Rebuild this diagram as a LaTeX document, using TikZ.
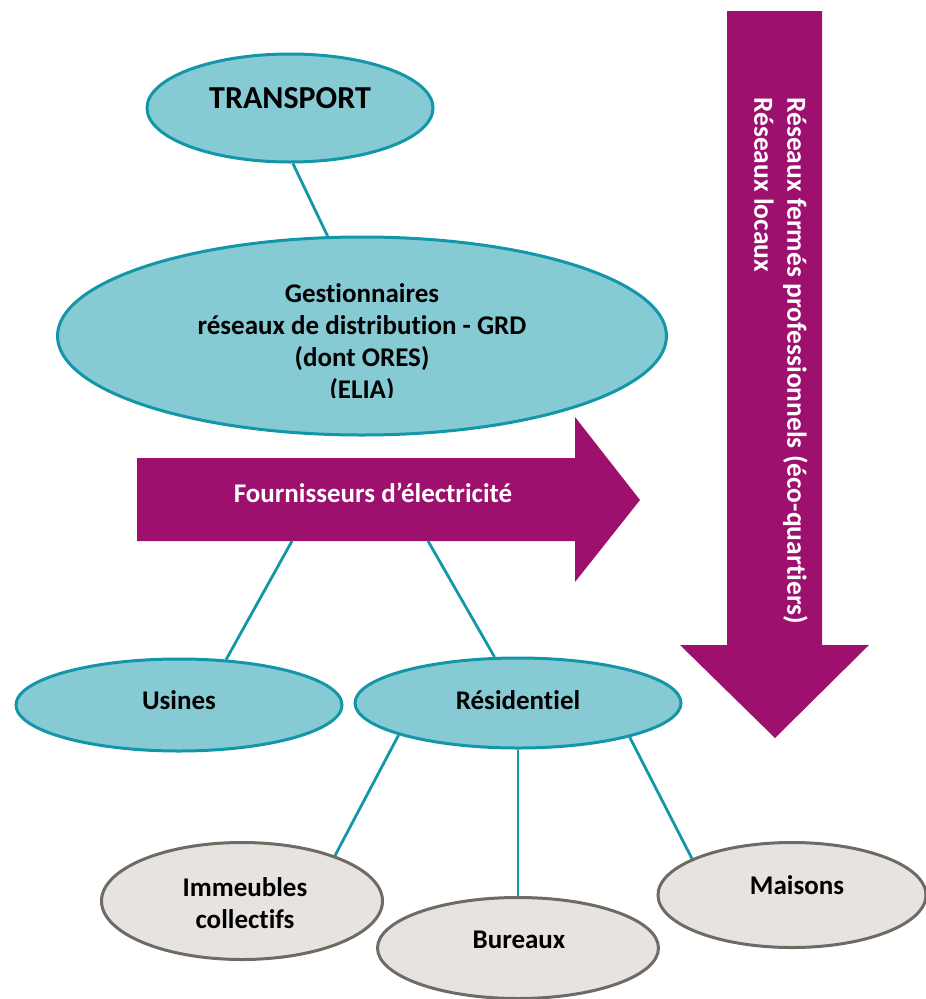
\documentclass[tikz,border=0pt]{standalone}
\usepackage{fontspec}
\setmainfont{Carlito}[Ligatures=NoCommon]
\usetikzlibrary{shapes.geometric}
\definecolor{tealfill}{RGB}{134,202,212}
\definecolor{tealline}{RGB}{18,150,168}
\definecolor{purp}{RGB}{158,16,110}
\definecolor{grayfill}{RGB}{231,227,224}
\definecolor{grayline}{RGB}{110,106,100}
\begin{document}
\begin{tikzpicture}[x=1pt,y=-1pt,
  tealell/.style={ellipse, draw=tealline, fill=tealfill, line width=3pt, inner sep=0pt},
  grayell/.style={ellipse, draw=grayline, fill=grayfill, line width=3pt, inner sep=0pt},
  conn/.style={draw=tealline, line width=2.8pt},
  lbl/.style={font=\bfseries\fontsize{27}{32}\selectfont, align=center, inner sep=0pt},
  bigarrow/.style={fill=purp}]
\useasboundingbox (0,0) rectangle (926,999);

% arrows
\fill[bigarrow] (727,11) -- (822,11) -- (822,645) -- (869,645) -- (775,738) -- (680,645) -- (727,645) -- cycle;
\fill[bigarrow] (137,458) -- (575,458) -- (575,417) -- (640,500) -- (575,582) -- (575,541) -- (137,541) -- cycle;
\coordinate (fa1) at (292,541);
\coordinate (fa2) at (428,541);

% ellipses
\node[tealell, minimum width=286pt, minimum height=108pt] (transport) at (290,108) {};
\node[tealell, minimum width=609pt, minimum height=198pt] (grd) at (362,336) {};
\node[tealell, minimum width=326pt, minimum height=92pt] (usines) at (179,705) {};
\node[tealell, minimum width=326pt, minimum height=90pt] (res) at (518,703) {};
\node[grayell, minimum width=281pt, minimum height=117pt] (imm) at (242,901) {};
\node[grayell, minimum width=281pt, minimum height=101pt] (bur) at (518,948) {};
\node[grayell, minimum width=268pt, minimum height=105pt] (mai) at (792,895) {};

% connectors
\draw[conn] (transport.-87) -- (grd.109);
\draw[conn] (fa1) -- (usines.44);
\draw[conn] (fa2) -- (res.117);
\draw[conn] (res.195) -- (imm.26);
\draw[conn] (res.south) -- (bur.north);
\draw[conn] (res.-17) -- (mai.160);

% labels
\node[lbl, font=\bfseries\fontsize{32}{38}\selectfont] (tlbl) at (290,98) {TRANSPORT};
\begin{scope}
\clip (0,0) rectangle (926,397);
\node[lbl] (glbl) at (362,343) {Gestionnaires\\réseaux de distribution - GRD\\(dont ORES)\\(ELIA)};
\end{scope}
\node[lbl, text=white] (flbl) at (373,493) {Fournisseurs d’électricité};
\node[lbl, text=white, rotate=-90, anchor=west, align=left, font=\bfseries\fontsize{27.5}{33}\selectfont] (vlbl) at (781,97) {Réseaux fermés professionnels (éco-quartiers)\\Réseaux locaux};
\node[lbl] (ulbl) at (179,700) {Usines};
\node[lbl] (rlbl) at (518,700) {Résidentiel};
\node[lbl] (ilbl) at (245,903) {Immeubles\\collectifs};
\node[lbl] (blbl) at (519,940) {Bureaux};
\node[lbl] (mlbl) at (797,885) {Maisons};
\end{tikzpicture}
\end{document}
